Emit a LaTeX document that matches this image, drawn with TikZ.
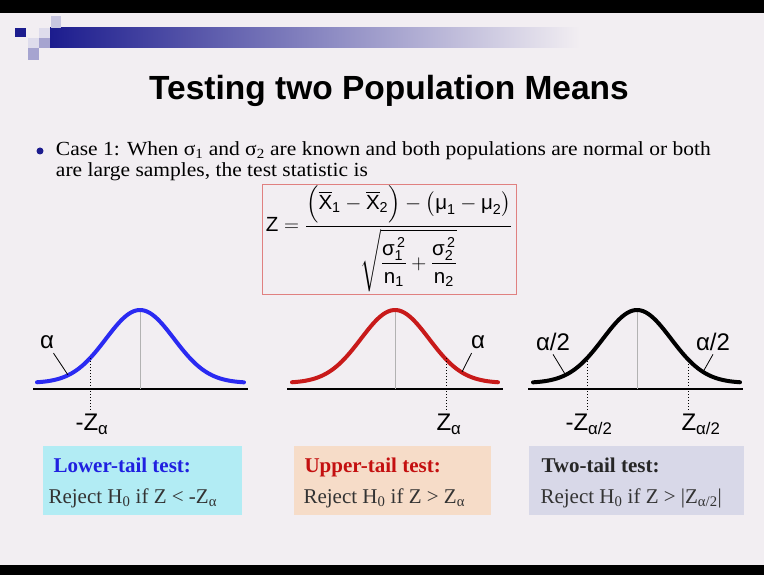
\documentclass[tikz,border=0pt]{standalone}
\usepackage{amsmath}
\usepackage{fontspec}
\setmainfont{Liberation Serif}
\setsansfont{Liberation Sans}
\newfontfamily\casefont{Liberation Serif}[FakeStretch=1.075]
\usetikzlibrary{positioning}

\definecolor{slidebg}{HTML}{F2EEF2}
\definecolor{navy}{HTML}{1C1C8E}
\definecolor{lavA}{HTML}{C8C6E0}
\definecolor{lavB}{HTML}{A6A4D0}
\definecolor{lavC}{HTML}{DEDCEC}
\definecolor{bellblue}{HTML}{2A2AF2}
\definecolor{bellred}{HTML}{C81A1A}
\definecolor{boxred}{HTML}{E08080}
\definecolor{lowerfill}{HTML}{B2ECF4}
\definecolor{upperfill}{HTML}{F6DCC8}
\definecolor{twofill}{HTML}{D8D8E8}
\definecolor{lowertxt}{HTML}{2020E0}
\definecolor{uppertxt}{HTML}{C41010}

\newcommand{\sv}[1]{\text{\sffamily #1}}

\begin{document}
\begin{tikzpicture}[
    x=1pt, y=-1pt,
    bell/.style={line width=4pt, line cap=round},
    axis/.style={line width=1.8pt},
    mid/.style={draw=gray!60, line width=0.6pt},
    cut/.style={line width=1pt, dotted},
    ptr/.style={line width=0.8pt},
    zlab/.style={font=\sffamily\fontsize{24}{26}\selectfont},
    caseline/.style={font=\casefont\fontsize{20}{22}\selectfont, anchor=base west, inner sep=0pt, outer sep=0pt},
    testbox/.style={rectangle, minimum width=#1, minimum height=69pt, inner sep=0pt},
    head/.style={font=\bfseries\fontsize{21}{23}\selectfont, anchor=base west},
    rule/.style={font=\fontsize{21}{23}\selectfont, anchor=base west}
]

% slide background
\fill[slidebg] (0,0) rectangle (764,575);
\fill[black] (0,0) rectangle (764,13);
\fill[black] (0,565) rectangle (764,575);
\useasboundingbox (0,0) rectangle (764,575);

% corner squares and bar
\shade[left color=navy, right color=slidebg] (50,28) rectangle (580,48);
\fill[lavA] (51,16) rectangle (61,28);
\fill[lavC] (39,28) rectangle (50,38);
\fill[lavB] (39,38) rectangle (50,48);
\fill[lavC] (28,38) rectangle (39,48);
\fill[lavB] (28,48) rectangle (39,60);
\fill[navy] (15,28) rectangle (26,37);

% title
\node[font=\sffamily\bfseries\fontsize{33.5}{36}\selectfont] (title) at (389,91) {Testing two Population Means};

% case 1 text
\fill[navy] (40,151) circle (3.5);
\node[caseline] (case1) at (56,155.5)
{Case 1: When σ\textsubscript{1} and σ\textsubscript{2} are known and both populations are normal or both};
\node[caseline] (case2) at (56,176.5) {are large samples, the test statistic is};

% test statistic
\node[draw=boxred, line width=0.8pt, minimum width=254pt, minimum height=110pt, inner sep=2pt, outer sep=0pt,
      font=\fontsize{20.5}{24}\selectfont] (stat) at (389,239)
{$\sv{Z} = \dfrac{\Bigl(\overline{\sv{X}}_{\sv{1}} - \overline{\sv{X}}_{\sv{2}}\Bigr) - \bigl(\sv{μ}_{\sv{1}} - \sv{μ}_{\sv{2}}\bigr)}
{\sqrt{\dfrac{\sv{σ}_{\sv{1}}^{\,\sv{2}}}{\sv{n}_{\sv{1}}} + \dfrac{\sv{σ}_{\sv{2}}^{\,\sv{2}}}{\sv{n}_{\sv{2}}}}}$};

% lower tail curve
\draw[axis] (33,389) -- (248,389);
\draw[mid] (140,310) -- (140,389);
\draw[bell, bellblue] plot[domain=-103:104, samples=80, smooth] ({140+\x},{383-73*exp(-(\x*\x)/2312)});
\draw[cut] (90,358) -- (90,410);
\node[zlab] (zlow) at (92,424) {-Z\textsubscript{α}};
\node[zlab] (alow) at (47,342) {α};
\coordinate (tiplow) at (68,375);
\draw[ptr] (alow.south east) ++(-4,1) -- (tiplow);

% upper tail curve
\draw[axis] (287,389) -- (503,389);
\draw[mid] (395,310) -- (395,389);
\draw[bell, bellred] plot[domain=-103:103, samples=80, smooth] ({395+\x},{383-73*exp(-(\x*\x)/2312)});
\draw[cut] (446,358) -- (446,410);
\node[zlab] (zup) at (449,424) {Z\textsubscript{α}};
\node[zlab] (aup) at (478,342) {α};
\coordinate (tipup) at (462,372);
\draw[ptr] (aup.south west) ++(4,1) -- (tipup);

% two tail curve
\draw[axis] (528,389) -- (743,389);
\draw[mid] (637,310) -- (637,389);
\draw[bell, black] plot[domain=-104:103, samples=80, smooth] ({637+\x},{383-73*exp(-(\x*\x)/2312)});
\draw[cut] (587,358) -- (587,410);
\draw[cut] (688,358) -- (688,410);
\node[zlab] (ztwol) at (589,424) {-Z\textsubscript{α/2}};
\node[zlab] (ztwor) at (701,424) {Z\textsubscript{α/2}};
\node[zlab] (atwol) at (553,342) {α/2};
\node[zlab] (atwor) at (713,342) {α/2};
\coordinate (tiptwol) at (565,374);
\coordinate (tiptwor) at (703,372);
\draw[ptr] (atwol.south) -- (tiptwol);
\draw[ptr] (atwor.south) -- (tiptwor);

% decision rules
\node[testbox=199pt, fill=lowerfill] (lower) at (142.5,480.5) {};
\node[head, text=lowertxt] (lowerhead) at (50,472) {Lower-tail test:};
\node[rule, text=black!80] (lowerrule) at (45,503) {Reject H\textsubscript{0} if Z < -Z\textsubscript{α}};

\node[testbox=197pt, fill=upperfill] (upper) at (392.5,480.5) {};
\node[head, text=uppertxt] (upperhead) at (301,472) {Upper-tail test:};
\node[rule, text=black!80] (upperrule) at (300,503) {Reject H\textsubscript{0} if Z > Z\textsubscript{α}};

\node[testbox=215pt, fill=twofill] (two) at (636.5,480.5) {};
\node[head, text=black!85] (twohead) at (538,472) {Two-tail test:};
\node[rule, text=black!80] (tworule) at (537,503) {Reject H\textsubscript{0} if Z > |Z\textsubscript{α/2}|};

\end{tikzpicture}
\end{document}
